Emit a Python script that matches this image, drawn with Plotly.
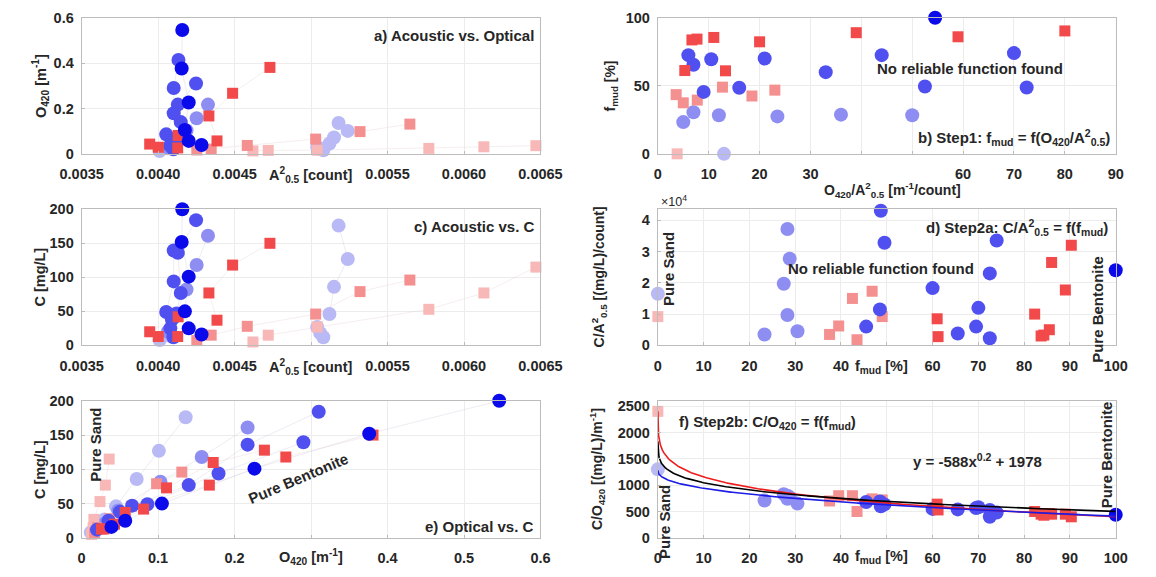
import numpy as np
import plotly.graph_objects as go

W, H = 1156, 577

# ---------------------------------------------------------------------------
# Concentration series: acoustic A^2_0.5 [count], optical O420 [1/m], C [mg/L]
# ---------------------------------------------------------------------------
# circle series
c100_A = [0.004158, 0.004154, 0.00420, 0.004175, 0.00420, 0.004284]
c100_O = [0.546, 0.376, 0.226, 0.105, 0.057, 0.039]
c100_C = [200, 152, 101, 50, 25, 16]

cmid1_A = [0.004248, 0.004129, 0.004148, 0.00412, 0.00408]
cmid1_O = [0.310, 0.217, 0.140, 0.066, 0.035]
cmid1_C = [184, 136, 77, 47, 25]

cmid2_A = [0.004133, 0.004102, 0.004102, 0.004053, 0.00409, 0.00410]
cmid2_O = [0.414, 0.290, 0.179, 0.086, 0.050, 0.020]
cmid2_C = [None, 139.5, 94, 49, 38, 12]

clow_A = [0.004326, 0.004252, 0.004186, 0.00410, 0.004064]
clow_O = [0.217, 0.157, 0.103, 0.048, 0.029]
clow_C = [161, 118, 82, 40, 20]

c0_A = [0.00518, 0.00524, 0.00515, 0.00512, 0.00504, 0.00506, 0.00508]
c0_O = [0.136, 0.101, 0.072, 0.045, 0.030, 0.022, 0.016]
c0_C = [176, 127, 86, 46, 27, 18, 12]

c0b_A = [0.00406, 0.00401]
c0b_O = [0.025, 0.012]
c0b_C = [15, 8]

# square series
shi1_A = [0.004731, 0.004487, 0.004332, 0.004385]
shi1_O = [0.381, 0.267, 0.167, 0.057]
shi1_C = [150, 118, 77, 37]

shi2_A = [0.004131, 0.003945, 0.004001, 0.004128]
shi2_O = [0.081, 0.043, 0.029, 0.026]
shi2_C = [42, 20, 13, 13]

shi3_A = [None, None, None]
shi3_O = [0.239, 0.172, 0.111]
shi3_C = [128, 110, 73]

smid_A = [0.005646, 0.00532, 0.00503, 0.004583, 0.004347, 0.004253]
smid_O = [0.131, 0.098, 0.065, 0.037, 0.021, 0.017]
smid_C = [96, 79, 46, 28, 15, 7]

s0_A = [0.00647, 0.00613, 0.00577, 0.00504, 0.00472, 0.00462]
s0_O = [0.036, 0.031, 0.024, 0.016, 0.015, 0.013]
s0_C = [115, 77, 53, 27, 15, 5]

# ---------------------------------------------------------------------------
# Per-sample ratios against mud fraction f_mud [%]
#   OA = O420/A^2_0.5, CA = C/A^2_0.5, CO = C/O420
# ---------------------------------------------------------------------------
r_c100_f = [100]
r_c100_OA = [54.5]
r_c100_CA = [24000]
r_c100_CO = [440]

r_cmid_f = [45.5, 48.5, 48.7, 49.5, 60, 65.5, 69.5, 70, 72.5, 72.5, 74]
r_cmid_OA = [9, 16, 72.5, 52.5, 33, 7, 10.5, 21, 6, 44, 70]
r_cmid_CA = [6000, 11500, 43000, 32800, 18300, 3800, 6000, 12000, 2300, 23000, 33500]
r_cmid_CO = [680, 690, 600, 635, 550, 540, 565, 580, 400, 530, 480]

r_clow_f = [23.3, 30.5, 28.3, 27.5, 28.8, 28.3]
r_clow_OA = [5, 7, 12, 23.5, 36, 50]
r_clow_CA = [3500, 4500, 9700, 19700, 27700, 37200]
r_clow_CO = [710, 650, 800, 830, 770, 740]

r_c0_f = [0]
r_c0_OA = [13]
r_c0_CA = [16500]
r_c0_CO = [1300]

r_shi_f = [61, 61.2, 82.3, 83.7, 84.3, 85.5, 86, 89, 90.3]
r_shi_OA = [13.3, 5.3, 20, 6.7, 7.7, 11, 59, 39, 80]
r_shi_CA = [8500, 2800, 10000, 3000, 3300, 5000, 26500, 17700, 32000]
r_shi_CO = [640, 530, 500, 450, 430, 460, 450, 450, 400]

r_smid_f = [43.5, 37.5, 39.5, 49, 42.5, 46.8]
r_smid_OA = [3.6, 5, 7.75, 12.7, 18.5, 23]
r_smid_CA = [1800, 3500, 6200, 9200, 15000, 17300]
r_smid_CO = [500, 700, 800, 720, 800, 740]

r_s0_f = [0]
r_s0_OA = [3.8]
r_s0_CA = [9200]
r_s0_CO = [2400]

# power-law fits C/O420 = a * f^b + c
FIT_UPPER = (-1064, 0.17, 2729)
FIT_MEAN = (-588, 0.2, 1978)
FIT_LOWER = (-139, 0.4, 1289)

# ---------------------------------------------------------------------------
COL_C100 = "#0a0aeb"
COL_CMID = "#5050f0"
COL_CLOW = "#8e8ef2"
COL_C0 = "#b9b9f5"
COL_SHI = "#f24a4a"
COL_SMID = "#f59090"
COL_S0 = "#f8b8b8"
LINE_BLUE = "rgba(200,200,222,0.35)"
LINE_RED = "rgba(230,205,205,0.35)"

AXC = "#bcbcbc"
GRID = "#ececec"
TXT = "#262626"
FONT = "Liberation Sans, Arial, sans-serif"

CIRCLE = 14
SQUARE = 11

conc_series = [
    (c0_A, c0_O, c0_C, "circle", COL_C0, LINE_BLUE),
    (c0b_A, c0b_O, c0b_C, "circle", COL_C0, LINE_BLUE),
    (clow_A, clow_O, clow_C, "circle", COL_CLOW, LINE_BLUE),
    (s0_A, s0_O, s0_C, "square", COL_S0, LINE_RED),
    (smid_A, smid_O, smid_C, "square", COL_SMID, LINE_RED),
    (cmid1_A, cmid1_O, cmid1_C, "circle", COL_CMID, LINE_BLUE),
    (cmid2_A, cmid2_O, cmid2_C, "circle", COL_CMID, LINE_BLUE),
    (shi1_A, shi1_O, shi1_C, "square", COL_SHI, LINE_RED),
    (shi2_A, shi2_O, shi2_C, "square", COL_SHI, LINE_RED),
    (shi3_A, shi3_O, shi3_C, "square", COL_SHI, LINE_RED),
    (c100_A, c100_O, c100_C, "circle", COL_C100, LINE_BLUE),
]

ratio_series = [
    (r_c0_f, r_c0_OA, r_c0_CA, r_c0_CO, "circle", COL_C0),
    (r_s0_f, r_s0_OA, r_s0_CA, r_s0_CO, "square", COL_S0),
    (r_clow_f, r_clow_OA, r_clow_CA, r_clow_CO, "circle", COL_CLOW),
    (r_smid_f, r_smid_OA, r_smid_CA, r_smid_CO, "square", COL_SMID),
    (r_cmid_f, r_cmid_OA, r_cmid_CA, r_cmid_CO, "circle", COL_CMID),
    (r_shi_f, r_shi_OA, r_shi_CA, r_shi_CO, "square", COL_SHI),
    (r_c100_f, r_c100_OA, r_c100_CA, r_c100_CO, "circle", COL_C100),
]

fig = go.Figure()


def marker(sym, col):
    return dict(symbol=sym, color=col, size=CIRCLE if sym == "circle" else SQUARE,
                line=dict(width=0))


# connecting lines first, markers on top
for A, O, C, sym, col, lcol in conc_series:
    for xs, ys, ax in ((A, O, 1), (A, C, 3), (O, C, 5)):
        fig.add_trace(go.Scatter(x=xs, y=ys, mode="lines", line=dict(color=lcol, width=1),
                                 xaxis=f"x{ax}", yaxis=f"y{ax}", hoverinfo="skip"))
for A, O, C, sym, col, lcol in conc_series:
    for xs, ys, ax in ((A, O, 1), (A, C, 3), (O, C, 5)):
        fig.add_trace(go.Scatter(x=xs, y=ys, mode="markers", marker=marker(sym, col),
                                 cliponaxis=False, xaxis=f"x{ax}", yaxis=f"y{ax}"))

for f, OA, CA, CO, sym, col in ratio_series:
    fig.add_trace(go.Scatter(x=OA, y=f, mode="markers", marker=marker(sym, col),
                             cliponaxis=False, xaxis="x2", yaxis="y2"))
    fig.add_trace(go.Scatter(x=f, y=CA, mode="markers", marker=marker(sym, col),
                             cliponaxis=False, xaxis="x4", yaxis="y4"))
    fig.add_trace(go.Scatter(x=f, y=CO, mode="markers", marker=marker(sym, col),
                             cliponaxis=False, xaxis="x6", yaxis="y6"))

# fitted curves in panel f
fx = np.concatenate([np.geomspace(1e-3, 1, 80), np.linspace(1, 100, 300)[1:]])
for (a, b, c), col in ((FIT_UPPER, "#ee1c1c"), (FIT_MEAN, "#000000"), (FIT_LOWER, "#1c1ce6")):
    fig.add_trace(go.Scatter(x=fx, y=a * fx ** b + c, mode="lines",
                             line=dict(color=col, width=1.6), xaxis="x6", yaxis="y6"))

# ---------------------------------------------------------------------------
XL = [62 / W, 539 / W]
XR = [661 / W, 1137 / W]
Y1 = [1 - 150 / H, 1 - 10 / H]
Y2 = [1 - 347 / H, 1 - 207 / H]
Y3 = [1 - 545 / H, 1 - 404 / H]


def axis(domain, rng, tickvals, ticktext, anchor, standoff):
    return dict(domain=domain, range=rng, tickvals=tickvals, ticktext=ticktext,
                anchor=anchor, showline=True, linecolor=AXC, linewidth=1, mirror=True,
                showgrid=True, gridcolor=GRID, gridwidth=1, zeroline=False,
                ticks="inside", ticklen=3, tickcolor=AXC, ticklabelstandoff=standoff,
                tickfont=dict(size=14.5, color=TXT, family=FONT, weight="bold"))


a_ticks = [0.0035, 0.0040, 0.0045, 0.0050, 0.0055, 0.0060, 0.0065]
a_text = ["0.0035", "0.0040", "0.0045", "", "0.0055", "0.0060", "0.0065"]
b_ticks = list(range(0, 91, 10))
b_text = [str(v) if v not in (40, 50) else "" for v in b_ticks]
f_ticks = list(range(0, 101, 10))
f_text = [str(v) if v != 50 else "" for v in f_ticks]
e_ticks = [0, 0.1, 0.2, 0.3, 0.4, 0.5, 0.6]
e_text = ["0", "0.1", "0.2", "", "0.4", "0.5", "0.6"]
conc_ticks = [0, 50, 100, 150, 200]

XS, YS = 7, 4
fig.update_layout(
    xaxis=axis(XL, [0.0035, 0.0065], a_ticks, a_text, "y", XS),
    yaxis=axis(Y1, [0, 0.6], [0, 0.2, 0.4, 0.6], ["0", "0.2", "0.4", "0.6"], "x", YS),
    xaxis2=axis(XR, [0, 90], b_ticks, b_text, "y2", XS),
    yaxis2=axis(Y1, [0, 100], [0, 50, 100], ["0", "50", "100"], "x2", YS),
    xaxis3=axis(XL, [0.0035, 0.0065], a_ticks, a_text, "y3", XS),
    yaxis3=axis(Y2, [0, 200], conc_ticks, [str(v) for v in conc_ticks], "x3", YS),
    xaxis4=axis(XR, [0, 100], f_ticks, f_text, "y4", XS),
    yaxis4=axis(Y2, [0, 43500], [0, 10000, 20000, 30000, 40000], ["0", "1", "2", "3", "4"],
                "x4", YS),
    xaxis5=axis(XL, [0, 0.6], e_ticks, e_text, "y5", XS),
    yaxis5=axis(Y3, [0, 200], conc_ticks, [str(v) for v in conc_ticks], "x5", YS),
    xaxis6=axis(XR, [0, 100], f_ticks, f_text, "y6", XS),
    yaxis6=axis(Y3, [0, 2600], [0, 500, 1000, 1500, 2000, 2500],
                ["0", "500", "1000", "1500", "2000", "2500"], "x6", YS),
)

annotations = []


def ann(text, x, y, size=15, xanchor="center", angle=0, bold=True):
    annotations.append(dict(text=text, x=x / W, y=1 - y / H, xref="paper", yref="paper",
                            xanchor=xanchor, yanchor="middle", textangle=angle,
                            showarrow=False,
                            font=dict(size=size, color=TXT, family=FONT,
                                      weight="bold" if bold else "normal")))


# axis titles
ann("A<sup>2</sup><sub>0.5</sub> [count]", 300, 172, size=14.5)
ann("O<sub>420</sub>/A<sup>2</sup><sub>0.5</sub> [m<sup>-1</sup>/count]", 905, 187, size=14)
ann("A<sup>2</sup><sub>0.5</sub> [count]", 300, 369, size=14.5)
ann("f<sub>mud</sub> [%]", 893, 369, size=14.5)
ann("O<sub>420</sub> [m<sup>-1</sup>]", 300, 565, size=14.5)
ann("f<sub>mud</sub> [%]", 893, 565, size=14.5)
ann("O<sub>420</sub> [m<sup>-1</sup>]", 19, 80, size=14.5, angle=-90)
ann("C [mg/L]", 19, 277, size=14.5, angle=-90)
ann("C [mg/L]", 19, 475, size=14.5, angle=-90)
ann("f<sub>mud</sub> [%]", 612, 80, size=14, angle=-90)
ann("C/A<sup>2</sup><sub>0.5</sub> [(mg/L)/count]", 600, 277, size=14, angle=-90)
ann("C/O<sub>420</sub> [(mg/L)/m<sup>-1</sup>]", 598, 474, size=14, angle=-90)

# panel labels and notes
ann("a) Acoustic vs. Optical", 534, 28, xanchor="right")
ann("No reliable function found", 986, 62)
ann("b) Step1: f<sub>mud</sub> = f(O<sub>420</sub>/A<sup>2</sup><sub>0.5</sub>)", 1133, 133,
    xanchor="right")
ann("c) Acoustic vs. C", 534, 225, xanchor="right")
ann("d) Step2a: C/A<sup>2</sup><sub>0.5</sub> = f(f<sub>mud</sub>)", 1131, 226, xanchor="right")
ann("No reliable function found", 893, 268)
ann("×10<sup>4</sup>", 662, 199, size=12.5, xanchor="left", bold=False)
ann("Pure Sand", 672, 268, angle=-90)
ann("Pure Bentonite", 1118, 310, angle=-90)
ann("e) Optical vs. C", 534, 533, xanchor="right")
ann("Pure Sand", 76, 449, angle=-90)
ann("Pure Bentonite", 287, 484, angle=-23)
ann("f) Step2b: C/O<sub>420</sub> = f(f<sub>mud</sub>)", 681, 426, xanchor="left")
ann("y = -588x<sup>0.2</sup> + 1978", 924, 465, xanchor="left")
ann("Pure Sand", 668, 529, angle=-90)
ann("Pure Bentonite", 1127, 460, angle=-90)

fig.update_layout(
    width=W, height=H, margin=dict(l=0, r=0, t=0, b=0),
    paper_bgcolor="white", plot_bgcolor="white", showlegend=False,
    font=dict(family=FONT, size=14, color=TXT, weight="bold"),
    annotations=annotations,
)

fig.write_html("out.html")
